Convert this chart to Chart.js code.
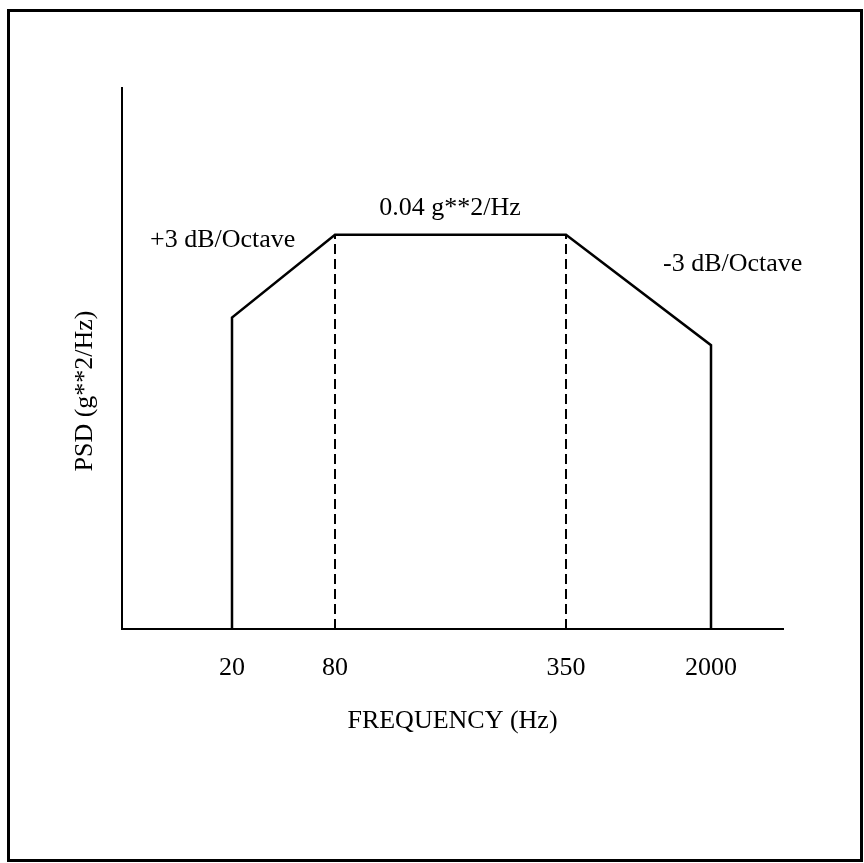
<!DOCTYPE html>
<html>
<head>
<meta charset="utf-8">
<script src="https://cdn.jsdelivr.net/npm/chart.js@4"></script>
<style>
  html, body { margin: 0; padding: 0; background: #fff; }
  #wrap { position: relative; width: 864px; height: 863px; }
  #frame {
    position: absolute; left: 7px; top: 9px; width: 856px; height: 853px;
    border: 3px solid #000; box-sizing: border-box;
  }
  #psdChart { position: absolute; left: 0; top: 0; }
</style>
</head>
<body>
<div id="wrap">
  <div id="frame"></div>
  <canvas id="psdChart" width="864" height="863"></canvas>
</div>
<script>
// break frequencies shown as tick labels (Hz)
const breakFreqs = ["20", "80", "350", "2000"];
// schematic x positions of the breaks (not to log scale in the original sketch)
const breakPos = [11.0, 21.3, 44.4, 58.9];
const xMax = 66.1;

// PSD profile (g**2/Hz)
const profileX = [11.0, 11.0, 21.3, 44.4, 58.9, 58.9];
const profileY = [0, 0.0316, 0.04, 0.04, 0.0288, 0];
const yMax = 0.0549;

// dashed guide lines at the plateau edges
const guide1 = [{ x: 21.3, y: 0 }, { x: 21.3, y: 0.04 }];
const guide2 = [{ x: 44.4, y: 0 }, { x: 44.4, y: 0.04 }];

const serif = "'Liberation Serif', 'Times New Roman', serif";

// text notes placed in data coordinates
const notes = [
  { text: "0.04 g**2/Hz", x: 32.8, y: 0.0427, align: "center" },
  { text: "+3 dB/Octave", x: 2.8, y: 0.0395, align: "left" },
  { text: "-3 dB/Octave", x: 54.1, y: 0.0370, align: "left" }
];

const yTitle = { text: "PSD (g**2/Hz)", x: 85, y: 391 };

const notesPlugin = {
  id: "notes",
  afterDatasetsDraw(chart) {
    const { ctx, scales } = chart;
    ctx.save();
    ctx.fillStyle = "#000";
    ctx.font = "26px " + serif;
    ctx.textBaseline = "middle";
    notes.forEach(n => {
      ctx.textAlign = n.align;
      ctx.fillText(n.text, scales.x.getPixelForValue(n.x), scales.y.getPixelForValue(n.y));
    });
    // y axis title, rotated, sits a little below the middle of the axis
    ctx.translate(yTitle.x, yTitle.y);
    ctx.rotate(-Math.PI / 2);
    ctx.textAlign = "center";
    ctx.fillText(yTitle.text, 0, 0);
    ctx.restore();
  }
};

function profilePoints() {
  return profileX.map((x, i) => ({ x: x, y: profileY[i] }));
}

new Chart(document.getElementById("psdChart"), {
  type: "line",
  data: {
    datasets: [
      {
        data: profilePoints(),
        borderColor: "#000",
        borderWidth: 2.5,
        pointRadius: 0,
        tension: 0,
        fill: false
      },
      {
        data: guide1,
        borderColor: "#000",
        borderWidth: 2,
        borderDash: [10, 5],
        pointRadius: 0
      },
      {
        data: guide2,
        borderColor: "#000",
        borderWidth: 2,
        borderDash: [10, 5],
        pointRadius: 0
      }
    ]
  },
  options: {
    responsive: false,
    animation: false,
    layout: { padding: { top: 88, right: 81, left: 0, bottom: 0 } },
    plugins: {
      legend: { display: false },
      tooltip: { enabled: false }
    },
    scales: {
      x: {
        type: "linear",
        min: 0,
        max: xMax,
        afterFit: scale => { scale.height = 234; },
        afterBuildTicks: scale => {
          scale.ticks = breakPos.map(v => ({ value: v }));
        },
        grid: { display: false, drawTicks: false },
        border: { display: true, color: "#000", width: 2 },
        ticks: {
          color: "#000",
          padding: 24,
          maxRotation: 0,
          autoSkip: false,
          font: { family: serif, size: 26 },
          callback: (value, index) => breakFreqs[index]
        },
        title: {
          display: true,
          text: "FREQUENCY (Hz)",
          color: "#000",
          font: { family: serif, size: 26 },
          padding: { top: 0, bottom: 126 }
        }
      },
      y: {
        type: "linear",
        min: 0,
        max: yMax,
        afterFit: scale => { scale.width = 122; },
        grid: { display: false, drawTicks: false },
        border: { display: true, color: "#000", width: 2 },
        ticks: { display: false }
      }
    }
  },
  plugins: [notesPlugin]
});
</script>
</body>
</html>
